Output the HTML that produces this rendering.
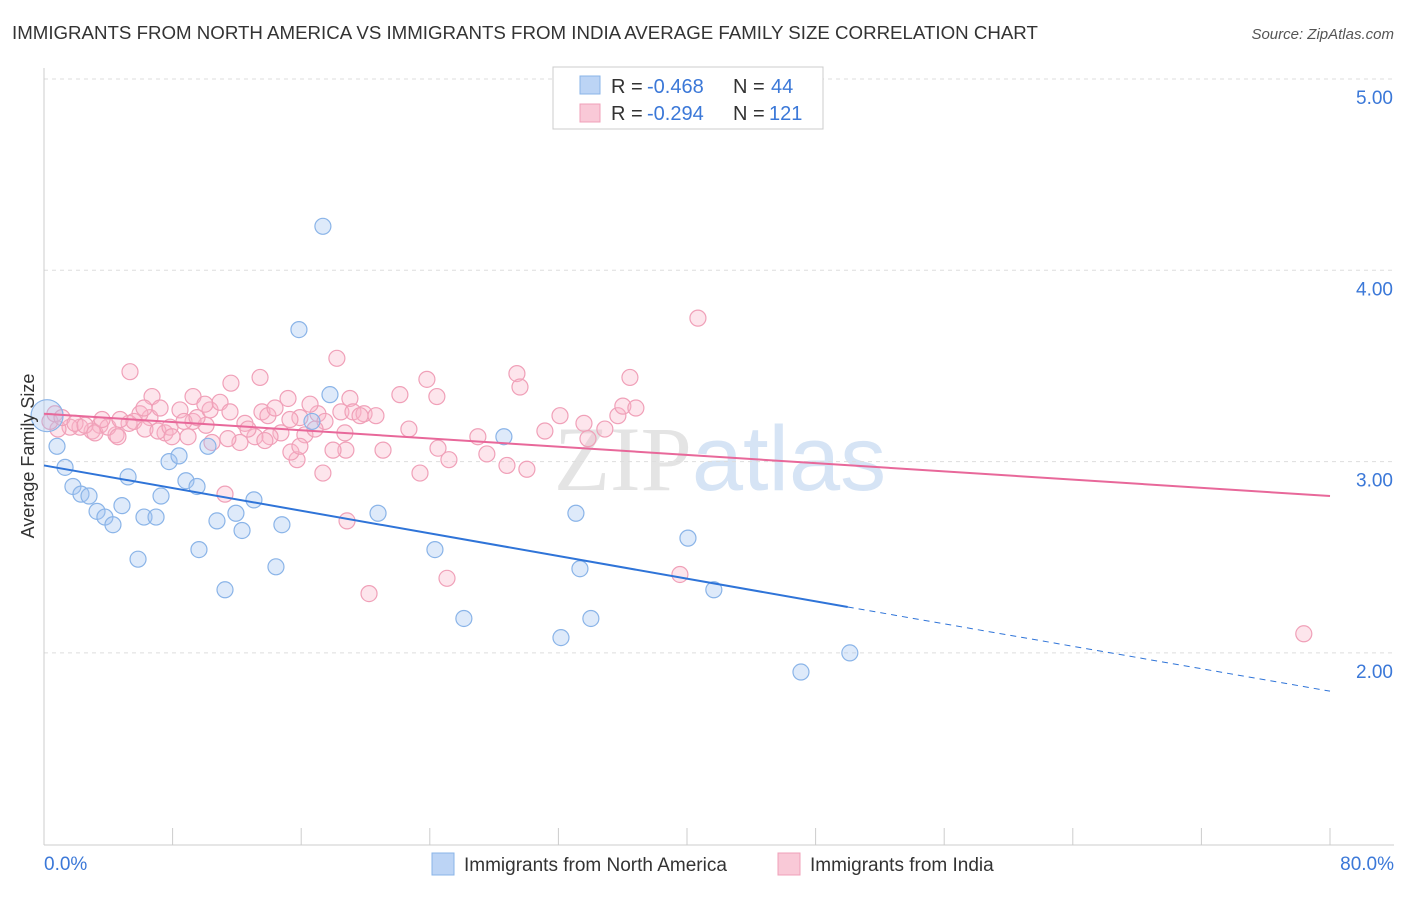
<!DOCTYPE html>
<html><head><meta charset="utf-8"><style>
body{margin:0;background:#fff;font-family:"Liberation Sans",sans-serif;}
</style></head><body>
<svg width="1406" height="892" xmlns="http://www.w3.org/2000/svg" id="chart">
<text x="12" y="39" font-size="18.7" fill="#333">IMMIGRANTS FROM NORTH AMERICA VS IMMIGRANTS FROM INDIA AVERAGE FAMILY SIZE CORRELATION CHART</text>
<text x="1394" y="39" font-size="15" fill="#555" font-style="italic" text-anchor="end">Source: ZipAtlas.com</text>
<text x="720" y="490" font-size="92" fill="#e4e4e4" text-anchor="middle" font-family="Liberation Serif">ZIP<tspan fill="#d6e4f5" font-family="Liberation Sans">atlas</tspan></text>
<g id="grid"></g>
<g id="axes"></g>
<g id="points"></g>
<g id="trends"></g>
<text transform="translate(34,456) rotate(-90)" font-size="18" fill="#333" text-anchor="middle">Average Family Size</text>
<g>
<rect x="553" y="67" width="270" height="62" fill="#fff" stroke="#ccc"/>
<rect x="580" y="76" width="20" height="18" fill="#bcd4f5" stroke="#8ab4e8"/>
<rect x="580" y="104" width="20" height="18" fill="#f9c9d7" stroke="#f0a0b8"/>
<text y="93" font-size="20" fill="#333"><tspan x="611">R =</tspan><tspan x="647" fill="#3b78d8">-0.468</tspan><tspan x="733">N =</tspan><tspan x="771" fill="#3b78d8">44</tspan></text>
<text y="120" font-size="20" fill="#333"><tspan x="611">R =</tspan><tspan x="647" fill="#3b78d8">-0.294</tspan><tspan x="733">N =</tspan><tspan x="769" fill="#3b78d8">121</tspan></text>
</g>
<g>
<rect x="432" y="853" width="22" height="22" fill="#bcd4f5" stroke="#8ab4e8"/>
<text x="464" y="871" font-size="19" fill="#333">Immigrants from North America</text>
<rect x="778" y="853" width="22" height="22" fill="#f9c9d7" stroke="#f0a0b8"/>
<text x="810" y="871" font-size="19" fill="#333">Immigrants from India</text>
</g>
</svg>
<script>
const yTicks=[2,3,4,5];
const yTickLabels=["2.00","3.00","4.00","5.00"];
const xTicks=[0,8,16,24,32,40,48,56,64,72,80];
const blueX=[0.19,0.81,1.31,1.80,2.30,2.80,3.30,3.79,4.29,4.85,5.23,5.85,6.22,6.97,7.28,7.78,8.40,8.83,9.52,9.64,10.20,10.76,11.26,11.94,12.32,13.06,14.43,14.80,15.86,16.67,17.35,17.79,20.78,24.32,26.12,28.61,32.16,33.09,33.34,34.02,40.06,41.67,47.09,50.13];
const blueY=[3.24,3.08,2.97,2.87,2.83,2.82,2.74,2.71,2.67,2.77,2.92,2.49,2.71,2.71,2.82,3.00,3.03,2.90,2.87,2.54,3.08,2.69,2.33,2.73,2.64,2.80,2.45,2.67,3.69,3.21,4.23,3.35,2.73,2.54,2.18,3.13,2.08,2.73,2.44,2.18,2.60,2.33,1.90,2.00];
const pinkX=[40.68,78.37,39.56,25.07,20.22,18.85,18.22,5.35,36.45,29.42,29.61,23.82,24.44,19.03,22.14,13.44,11.63,9.27,6.72,15.18,13.56,17.04,18.47,19.22,19.91,20.65,15.92,11.26,17.35,15.74,15.36,23.39,24.51,25.19,27.55,28.80,30.04,31.16,32.10,33.59,33.84,34.89,35.70,36.01,36.82,26.99,22.70,21.09,18.78,17.98,16.23,14.74,14.06,12.19,10.45,10.08,9.27,8.46,7.53,6.59,5.97,5.29,4.48,3.48,2.99,2.24,1.62,0.87,0.37,0.68,1.12,1.93,2.55,3.17,3.98,4.73,5.60,6.28,7.09,7.84,8.71,9.52,10.33,10.95,11.57,12.50,13.12,13.93,14.37,15.30,16.55,17.48,18.72,19.66,10.01,7.22,7.96,8.96,11.44,12.69,13.74,15.92,16.86,6.22,4.60,3.61];
const pinkY=[3.75,2.10,2.41,2.39,2.31,2.69,3.54,3.47,3.44,3.46,3.39,3.43,3.34,3.33,3.35,3.44,3.41,3.34,3.34,3.33,3.26,3.25,3.26,3.26,3.25,3.24,3.23,2.83,2.94,3.01,3.05,2.94,3.07,3.01,3.04,2.98,2.96,3.16,3.24,3.20,3.12,3.17,3.24,3.29,3.28,3.13,3.17,3.06,3.06,3.06,3.14,3.15,3.13,3.10,3.10,3.19,3.21,3.27,3.15,3.23,3.25,3.20,3.14,3.19,3.16,3.18,3.18,3.17,3.21,3.25,3.23,3.20,3.19,3.15,3.18,3.22,3.21,3.17,3.16,3.18,3.21,3.23,3.27,3.31,3.26,3.20,3.13,3.24,3.28,3.22,3.30,3.21,3.15,3.24,3.30,3.28,3.13,3.13,3.12,3.17,3.11,3.08,3.17,3.28,3.13,3.22];
const blueTrendX=[0,50,80];
const blueTrendY=[2.98,2.24,1.80];
const pinkTrendX=[0,80];
const pinkTrendY=[3.25,2.82];
const NS="http://www.w3.org/2000/svg";
const sx=v=>44+v/80*1286;
const sy=v=>79+(5-v)*191.3;
function mk(tag,attrs,parent){const e=document.createElementNS(NS,tag);for(const k in attrs)e.setAttribute(k,attrs[k]);parent.appendChild(e);return e;}
const grid=document.getElementById('grid'),axes=document.getElementById('axes'),pts=document.getElementById('points'),tr=document.getElementById('trends');
yTicks.forEach((t,i)=>{
 const l=mk('line',{x1:44,x2:1394,y1:sy(t),y2:sy(t),stroke:'#ddd','stroke-dasharray':'4,4'},grid);
 
 
 const tx=mk('text',{x:1393,y:sy(t)+25,'font-size':19,fill:'#3b78d8','text-anchor':'end'},axes);
 tx.textContent=yTickLabels[i];
 
 
});
const ax=mk('line',{x1:44,x2:44,y1:68,y2:845,stroke:'#ccc'},axes);


const bx=mk('line',{x1:44,x2:1394,y1:845,y2:845,stroke:'#ccc'},axes);


xTicks.forEach(t=>{
 const l=mk('line',{x1:sx(t),x2:sx(t),y1:828,y2:845,stroke:'#ccc'},axes);
 
 
});
const xl0=mk('text',{x:44,y:870,'font-size':19,fill:'#3b78d8'},axes);xl0.textContent='0.0%';


const xl1=mk('text',{x:1394,y:870,'font-size':19,fill:'#3b78d8','text-anchor':'end'},axes);xl1.textContent='80.0%';


pinkX.forEach((x,i)=>{
 const c=mk('circle',{cx:sx(x),cy:sy(pinkY[i]),r:8,fill:'rgba(248,180,200,0.35)',stroke:'#f0a0b8','stroke-width':1.2},pts);
 
 
});
blueX.forEach((x,i)=>{
 const c=mk('circle',{cx:sx(x),cy:sy(blueY[i]),r:i===0?16:8,fill:'rgba(160,196,240,0.35)',stroke:'#8ab4e8','stroke-width':1.2},pts);
 
 
});
const b1=mk('line',{x1:sx(blueTrendX[0]),y1:sy(blueTrendY[0]),x2:sx(blueTrendX[1]),y2:sy(blueTrendY[1]),stroke:'#2f74d8','stroke-width':2},tr);


const b2=mk('line',{x1:sx(blueTrendX[1]),y1:sy(blueTrendY[1]),x2:sx(blueTrendX[2]),y2:sy(blueTrendY[2]),stroke:'#2f74d8','stroke-width':1,'stroke-dasharray':'6,5'},tr);


const p1=mk('line',{x1:sx(pinkTrendX[0]),y1:sy(pinkTrendY[0]),x2:sx(pinkTrendX[1]),y2:sy(pinkTrendY[1]),stroke:'#e8689a','stroke-width':2},tr);


</script>
</body></html>
